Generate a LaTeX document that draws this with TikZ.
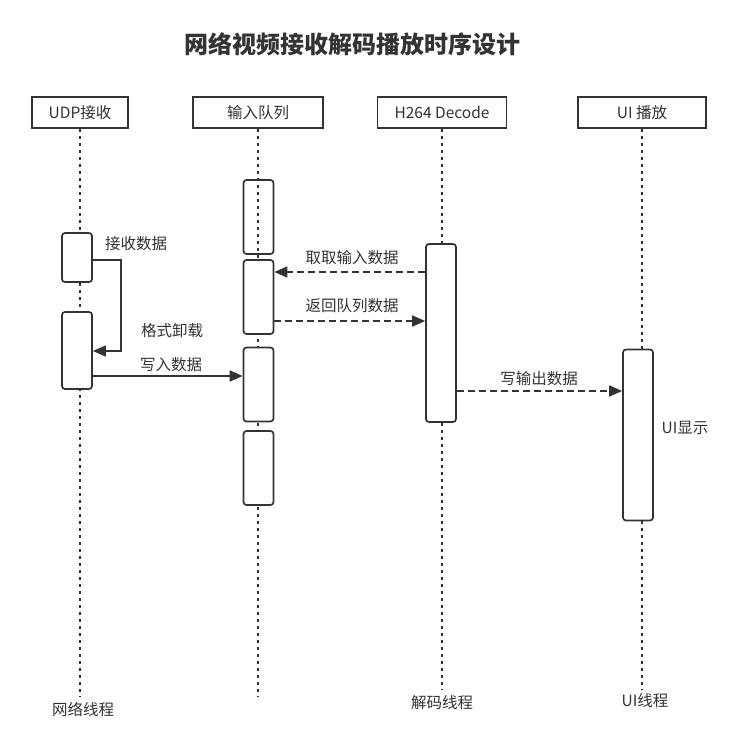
\documentclass[tikz,border=0pt]{standalone}
\usepackage{fontspec}
\setmainfont{Noto Sans CJK SC}
\usetikzlibrary{arrows.meta}
\definecolor{ink}{HTML}{333333}
\begin{document}
\begin{tikzpicture}[x=1pt,y=-1pt,
  every node/.style={text=ink,font=\fontsize{15.5}{17}\selectfont},
  hdr/.style={draw=ink,line width=1.7pt,minimum height=31pt,inner sep=0pt,fill=white},
  actbox/.style={draw=ink,line width=1.7pt,rounded corners=3pt,minimum width=30pt,inner sep=0pt},
  lifeline/.style={ink,line width=2pt,dash pattern=on 3.5pt off 3.5pt},
  msg/.style={ink,line width=1.7pt,-{Triangle[length=13pt,width=11pt]}},
  ret/.style={msg,dash pattern=on 7pt off 4pt},
  lbl/.style={inner sep=0pt}
]
\useasboundingbox (0,0) rectangle (755,743);
\fill[white] (0,0) rectangle (755,743);

% title
\node[font=\fontsize{24}{26}\selectfont\bfseries] (title) at (352,44) {网络视频接收解码播放时序设计};

% headers
\node[hdr,minimum width=96pt] (h1) at (80,112.5) {UDP接收};
\node[hdr,minimum width=130pt] (h2) at (258,112.5) {输入队列};
\node[hdr,minimum width=129pt] (h3) at (442,112.5) {H264 Decode};
\node[hdr,minimum width=128pt] (h4) at (642,112.5) {UI 播放};

% lifeline ends
\coordinate (e1) at (80,697);
\coordinate (e2) at (258,697);
\coordinate (e3) at (442,690);
\coordinate (e4) at (642,690);
\draw[lifeline] (h1.south) -- (e1);
\draw[lifeline] (h2.south) -- (e2);
\draw[lifeline] (h3.south) -- (e3);
\draw[lifeline] (h4.south) -- (e4);

% footer labels
\node[lbl] (f1) at (83,709) {网络线程};
\node[lbl] (f3) at (442,703) {解码线程};
\node[lbl] (f4) at (645,701) {UI线程};

% activation boxes
\node[actbox,fill=white,minimum height=49pt] (u1) at (77,257.5) {};
\node[actbox,fill=white,minimum height=77pt] (u2) at (77,350.5) {};
\node[actbox,minimum height=74pt] (q1) at (258.5,217) {};
\node[actbox,fill=white,minimum height=74pt] (q2) at (258.5,297) {};
\node[actbox,fill=white,minimum height=74pt] (q3) at (258.5,384.5) {};
\node[actbox,fill=white,minimum height=74pt] (q4) at (258.5,468) {};
\node[actbox,fill=white,minimum height=178pt] (d1) at (441,333) {};
\node[actbox,fill=white,minimum height=171pt] (ui1) at (638,435) {};

% self message
\coordinate (s1) at (121,260);
\coordinate (s2) at (121,351);
\draw[msg] (u1.east |- s1) -- (s1) -- (s2) -- (u2.east |- s2);
\node[lbl] (l1) at (136,244) {接收数据};
\node[lbl] (l2) at (172,331) {格式卸载};

% write
\coordinate (w1) at (0,376);
\draw[msg] (u2.east |- w1) -- (q3.west |- w1);
\node[lbl] (l3) at (171,365) {写入数据};

% fetch
\coordinate (w2) at (0,272);
\draw[ret] (d1.west |- w2) -- (q2.east |- w2);
\node[lbl] (l4) at (352,258) {取取输入数据};

% return
\coordinate (w3) at (0,321);
\draw[ret] (q2.east |- w3) -- (d1.west |- w3);
\node[lbl] (l5) at (352,306) {返回队列数据};

% write output
\coordinate (w4) at (0,391);
\draw[ret] (d1.east |- w4) -- (ui1.west |- w4);
\node[lbl] (l6) at (539,379) {写输出数据};

\node[lbl] (l7) at (685,428) {UI显示};
\end{tikzpicture}
\end{document}
